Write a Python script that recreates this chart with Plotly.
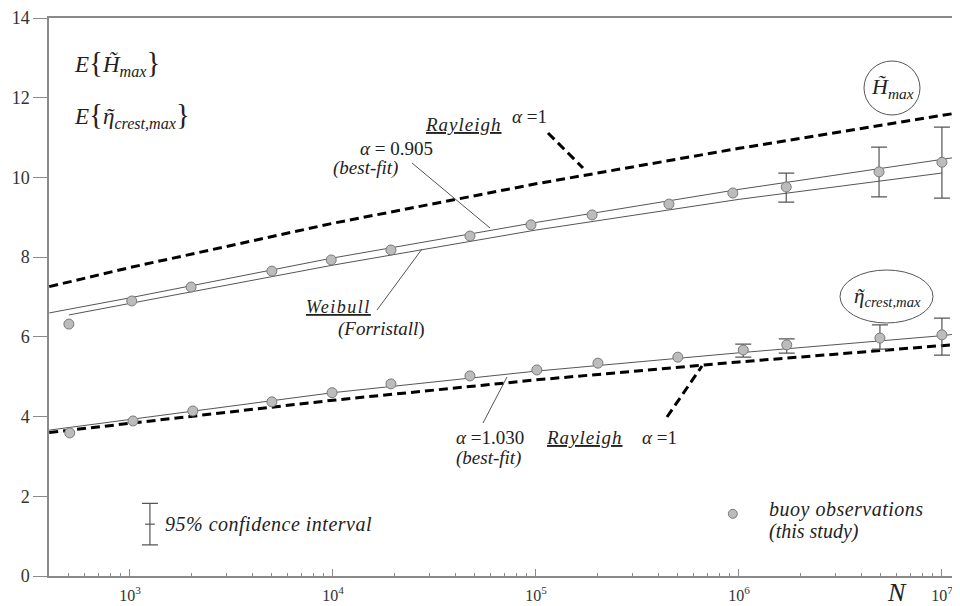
import plotly.graph_objects as go

# ---------------- data ----------------
# buoy observations, expected maximum wave height
N_h = [500, 1020, 2000, 5000, 9800, 19300, 47300, 94500, 189000, 452000, 933000, 1710000, 4900000, 10000000]
H_obs = [6.32, 6.90, 7.25, 7.65, 7.93, 8.18, 8.53, 8.81, 9.06, 9.33, 9.61, 9.76, 10.14, 10.38]
H_err_idx = [11, 12, 13]
H_err_plus = [0.35, 0.62, 0.88]
H_err_minus = [0.38, 0.63, 0.90]

# buoy observations, expected maximum crest height
N_c = [505, 1035, 2040, 5000, 9900, 19300, 47300, 101000, 202000, 500000, 1050000, 1720000, 4950000, 10000000]
C_obs = [3.59, 3.89, 4.14, 4.37, 4.60, 4.82, 5.02, 5.17, 5.34, 5.49, 5.67, 5.80, 5.97, 6.05]
C_err_idx = [10, 11, 12, 13]
C_err_plus = [0.15, 0.15, 0.33, 0.42]
C_err_minus = [0.18, 0.21, 0.28, 0.51]

# curves
N_line_h = [400, 1000, 10000, 100000, 1000000, 10000000, 12300000]
H_rayleigh = [7.26, 7.74, 8.85, 9.84, 10.73, 11.56, 11.63]
H_bestfit = [6.60, 6.98, 7.98, 8.87, 9.70, 10.45, 10.52]
N_weibull = [500, 1000, 10000, 100000, 1000000, 10000000]
H_weibull = [6.55, 6.84, 7.80, 8.68, 9.45, 10.11]

N_line_c = [400, 1000, 10000, 100000, 1000000, 10000000, 11200000]
C_rayleigh = [3.60, 3.83, 4.41, 4.92, 5.37, 5.78, 5.80]
C_bestfit = [3.66, 3.93, 4.60, 5.14, 5.60, 6.03, 6.06]

# legend samples
legend_ci_N = [1254]
legend_ci_y = [1.30]
legend_ci_err = [0.52]
legend_obs_N = [933000]
legend_obs_y = [1.56]

x_tick_vals = [1e3, 1e4, 1e5, 1e6, 1e7]
x_tick_text = ["10<sup>3</sup>", "10<sup>4</sup>", "10<sup>5</sup>", "10<sup>6</sup>", "10<sup>7</sup>"]
x_minor_vals = [400, 500, 600, 700, 800, 900,
                2e3, 3e3, 4e3, 5e3, 6e3, 7e3, 8e3, 9e3,
                2e4, 3e4, 4e4, 5e4, 6e4, 7e4, 8e4, 9e4,
                2e5, 3e5, 4e5, 5e5, 6e5, 7e5, 8e5, 9e5,
                2e6, 3e6, 4e6, 5e6, 6e6, 7e6, 8e6, 9e6]
y_tick_vals = [0, 2, 4, 6, 8, 10, 12, 14]

# ---------------- styling ----------------
FONT = "Liberation Serif, Times New Roman, Times, serif"
AXC = "#8a8a8a"
LINEC = "#555555"
PT_FILL = "#bcbcbc"
PT_EDGE = "#7a7a7a"
DASH = "9px,5px"

# plot area in screenshot pixels (page shows the figure with an 8px body margin)
OFF = 8
X0, X1, Y0, Y1 = 49, 960, 18, 576
W, H = 960, 606
PW = X1 - X0
PH = Y1 - Y0


def px(x):
    return (x - X0) / PW


def py(y):
    return (Y1 - y) / PH


fig = go.Figure()

# curves
fig.add_trace(go.Scatter(x=N_line_h, y=H_rayleigh, mode="lines",
                         line=dict(color="black", width=3, dash=DASH), hoverinfo="skip"))
fig.add_trace(go.Scatter(x=N_line_h, y=H_bestfit, mode="lines",
                         line=dict(color=LINEC, width=1), hoverinfo="skip"))
fig.add_trace(go.Scatter(x=N_weibull, y=H_weibull, mode="lines",
                         line=dict(color=LINEC, width=1), hoverinfo="skip"))
fig.add_trace(go.Scatter(x=N_line_c, y=C_rayleigh, mode="lines",
                         line=dict(color="black", width=3, dash=DASH), hoverinfo="skip"))
fig.add_trace(go.Scatter(x=N_line_c, y=C_bestfit, mode="lines",
                         line=dict(color=LINEC, width=1), hoverinfo="skip"))

# error bars (drawn under the markers)
err_style = dict(type="data", symmetric=False, color=LINEC, thickness=1.2, width=8)
fig.add_trace(go.Scatter(
    x=[N_h[i] for i in H_err_idx], y=[H_obs[i] for i in H_err_idx], mode="markers",
    marker=dict(size=1, color="rgba(0,0,0,0)"),
    error_y=dict(array=H_err_plus, arrayminus=H_err_minus, **err_style)))
fig.add_trace(go.Scatter(
    x=[N_c[i] for i in C_err_idx], y=[C_obs[i] for i in C_err_idx], mode="markers",
    marker=dict(size=1, color="rgba(0,0,0,0)"),
    error_y=dict(array=C_err_plus, arrayminus=C_err_minus, **err_style)))

# observation markers
pt = dict(size=10, color=PT_FILL, line=dict(color=PT_EDGE, width=1))
fig.add_trace(go.Scatter(x=N_h, y=H_obs, mode="markers", marker=pt))
fig.add_trace(go.Scatter(x=N_c, y=C_obs, mode="markers", marker=pt))

# legend samples
fig.add_trace(go.Scatter(
    x=legend_ci_N, y=legend_ci_y, mode="markers",
    marker=dict(symbol="line-ew-open", size=7, color=LINEC, line=dict(color=LINEC, width=1.2)),
    error_y=dict(type="data", array=legend_ci_err, color=LINEC, thickness=1.2, width=8)))
fig.add_trace(go.Scatter(x=legend_obs_N, y=legend_obs_y, mode="markers",
                         marker=dict(size=9, color=PT_FILL, line=dict(color=PT_EDGE, width=1))))

# ---------------- decorations ----------------
shapes = []


def seg(x0, y0, x1, y1, **kw):
    line = dict(color=LINEC, width=1)
    line.update(kw)
    shapes.append(dict(type="line", xref="paper", yref="paper",
                       x0=px(x0), y0=py(y0), x1=px(x1), y1=py(y1), line=line))


seg(412, 163, 490, 228)                                   # alpha=0.905 pointer
seg(548, 133, 583, 168, color="black", width=3, dash=DASH)  # upper Rayleigh pointer
seg(377, 310, 422, 249)                                   # Weibull pointer
seg(483, 423, 507, 377)                                   # alpha=1.030 pointer
seg(667, 417, 702, 366, color="black", width=3, dash=DASH)  # lower Rayleigh pointer

shapes.append(dict(type="circle", xref="paper", yref="paper",
                   x0=px(864), x1=px(920), y0=py(115), y1=py(61),
                   line=dict(color=LINEC, width=1), fillcolor="white", layer="above"))
shapes.append(dict(type="circle", xref="paper", yref="paper",
                   x0=px(840), x1=px(933), y0=py(323), y1=py(270),
                   line=dict(color=LINEC, width=1), fillcolor="white", layer="above"))

annotations = []


def txt(x, y, s, size=19, anchor="center", color="#222"):
    annotations.append(dict(xref="paper", yref="paper", x=px(x), y=py(y), text=s,
                            showarrow=False, xanchor=anchor, yanchor="middle",
                            font=dict(family=FONT, size=size, color=color)))


BR = '<span style="font-size:29px">{</span>'
BR2 = '<span style="font-size:29px">}</span>'
txt(72, 63, "<i>E</i>" + BR + "<i>H̃</i><sub><i>max</i></sub>" + BR2, size=23, anchor="left")
txt(72, 115, "<i>E</i>" + BR + "<i>ῆ</i><sub><i>crest,max</i></sub>" + BR2, size=23, anchor="left")

txt(463, 125, '<u><i><span style="letter-spacing:1px">Rayleigh</span></i></u>', size=19)
txt(529, 116, "<i>α</i> =1", size=19)
txt(396, 148, "<i>α</i> = 0.905", size=19)
txt(365, 168, "<i>(best-fit)</i>", size=19)
txt(338, 307, '<u><i><span style="letter-spacing:1.5px">Weibull</span></i></u>', size=18)
txt(381, 329, "<i>(Forristall</i>)", size=19)
txt(490, 437, "<i>α</i> =1.030", size=19)
txt(488, 458, "<i>(best-fit)</i>", size=19)
txt(584, 437, '<u><i><span style="letter-spacing:1px">Rayleigh</span></i></u>', size=19)
txt(659, 437, "<i>α</i> =1", size=19)
txt(163, 524, '<i><span style="letter-spacing:0.5px">95% confidence interval</span></i>', size=20, anchor="left")
txt(767, 509, '<i><span style="letter-spacing:0.5px">buoy observations</span></i>', size=20, anchor="left")
txt(767, 531, "<i>(this study)</i>", size=20, anchor="left")
txt(892, 88, "<i>H̃</i><sub><i>max</i></sub>", size=22)
txt(887, 297, "<i>ῆ</i><sub><i>crest,max</i></sub>", size=21)
txt(897, 592, "<i>N</i>", size=26)

tickfont_x = dict(family=FONT, size=16, color="#333")
tickfont_y = dict(family=FONT, size=18, color="#333")

fig.update_layout(
    width=W, height=H,
    margin=dict(l=X0 - OFF, r=W - (X1 - OFF), t=Y0 - OFF, b=H - (Y1 - OFF), pad=0),
    paper_bgcolor="white", plot_bgcolor="white",
    showlegend=False,
    shapes=shapes, annotations=annotations,
    font=dict(family=FONT, size=18, color="#333"),
)
fig.update_xaxes(
    type="log", range=[2.601, 7.089], automargin=False,
    tickmode="array", tickvals=x_tick_vals, ticktext=x_tick_text,
    ticks="inside", ticklen=7, tickcolor=AXC, tickwidth=1.2,
    ticklabelstandoff=4,
    showline=True, linecolor=AXC, linewidth=1.5, mirror=True,
    showgrid=False, zeroline=False,
    tickfont=tickfont_x,
    minor=dict(tickmode="array", tickvals=x_minor_vals, ticks="inside", ticklen=3,
               tickcolor=AXC, tickwidth=1, showgrid=False),
)
fig.update_yaxes(
    range=[0, 14], tickvals=y_tick_vals, automargin=False,
    ticks="outside", ticklen=14, tickcolor=AXC, tickwidth=1.2,
    showline=True, linecolor=AXC, linewidth=1.5,
    showgrid=False, zeroline=False,
    tickfont=tickfont_y,
)

fig.write_html("out.html")
